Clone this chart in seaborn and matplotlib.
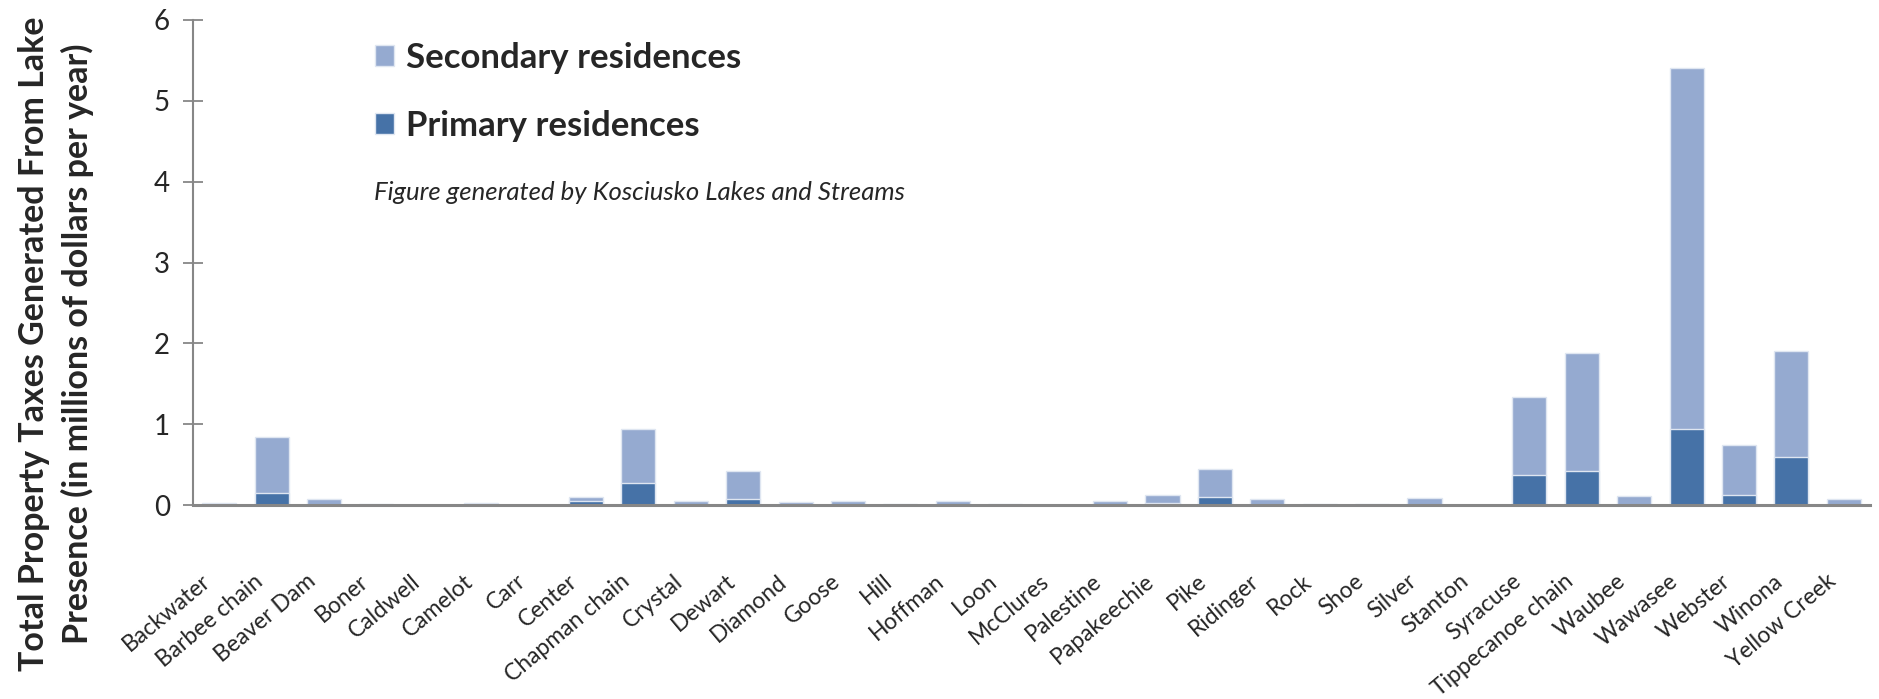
import pandas as pd
import seaborn as sns
import matplotlib.pyplot as plt
from matplotlib.transforms import ScaledTranslation

# Data --------------------------------------------------------------------
lakes = [
    "Backwater", "Barbee chain", "Beaver Dam", "Boner", "Caldwell", "Camelot",
    "Carr", "Center", "Chapman chain", "Crystal", "Dewart", "Diamond", "Goose",
    "Hill", "Hoffman", "Loon", "McClures", "Palestine", "Papakeechie", "Pike",
    "Ridinger", "Rock", "Shoe", "Silver", "Stanton", "Syracuse",
    "Tippecanoe chain", "Waubee", "Wawasee", "Webster", "Winona", "Yellow Creek",
]
# millions of dollars per year
primary = [
    0, 0.15, 0, 0, 0, 0, 0, 0.05, 0.27, 0, 0.08, 0, 0, 0, 0, 0,
    0, 0, 0.02, 0.10, 0, 0, 0, 0, 0, 0.37, 0.42, 0, 0.94, 0.12, 0.59, 0,
]
secondary = [
    0.02, 0.69, 0.07, 0.01, 0, 0.02, 0, 0.05, 0.67, 0.055, 0.34, 0.037, 0.045,
    0.015, 0.045, 0.015, 0, 0.045, 0.10, 0.35, 0.08, 0.015, 0.01, 0.087, 0,
    0.97, 1.46, 0.115, 4.46, 0.62, 1.32, 0.075,
]
yticks = [0, 1, 2, 3, 4, 5, 6]

df = pd.DataFrame({"Lake": lakes, "Primary": primary, "Secondary": secondary})
df["Total"] = df["Primary"] + df["Secondary"]

light = "#95aad0"
dark = "#4672a7"
axis_grey = "#878787"

sns.set_style("white")
plt.rcParams["font.family"] = ["Lato", "DejaVu Sans"]

fig = plt.figure(figsize=(18.79, 6.99), dpi=100)
ax = fig.add_axes([0.1027, 0.2775, 0.8925, 0.6939])

# stacked bars: total (secondary on top) then primary over it
sns.barplot(data=df, x="Lake", y="Total", color=light, width=0.65,
            edgecolor="#dfe6f1", linewidth=1, saturation=1,
            label="Secondary residences", ax=ax)
sns.barplot(data=df, x="Lake", y="Primary", color=dark, width=0.65,
            edgecolor="#dfe6f1", linewidth=1, saturation=1,
            label="Primary residences", ax=ax)

ax.set_ylim(0, 6)
ax.set_xlim(-0.5, len(lakes) - 0.5)
ax.set_yticks(yticks)
ax.set_yticklabels([str(t) for t in yticks], fontsize=20)
ax.tick_params(axis="y", direction="inout", length=15, width=1.3,
               color=axis_grey, pad=9, left=True)
ax.tick_params(axis="x", length=0, pad=53)
ax.set_xticks(range(len(lakes)))
ax.set_xticklabels(lakes, rotation=40, ha="right", va="center",
                   rotation_mode="anchor", fontsize=16.5)
shift = ScaledTranslation(-8 / 72, 0, fig.dpi_scale_trans)
for lab in ax.get_xticklabels():
    lab.set_transform(lab.get_transform() + shift)
ax.set_xlabel("")
ax.set_ylabel("")

for s in ["top", "right"]:
    ax.spines[s].set_visible(False)
ax.spines["left"].set_color(axis_grey)
ax.spines["left"].set_linewidth(1.5)
ax.spines["bottom"].set_color(axis_grey)
ax.spines["bottom"].set_linewidth(2.2)

leg = ax.legend(loc="upper left", bbox_to_anchor=(0.090, 1.02), frameon=False,
                prop={"weight": "bold", "size": 25}, handlelength=0.55,
                handleheight=0.55, handletextpad=0.35, labelspacing=1.05)

ax.text(0.108, 0.645, "Figure generated by Kosciusko Lakes and Streams",
        transform=ax.transAxes, fontsize=18.5, style="italic", va="center")

fig.text(0.030, 0.508,
         "Total Property Taxes Generated From Lake\nPresence (in millions of dollars per year)",
         rotation=90, ha="center", va="center", fontsize=24.5, fontweight="bold",
         multialignment="center", linespacing=1.4)

plt.savefig("out.png", dpi=100)
